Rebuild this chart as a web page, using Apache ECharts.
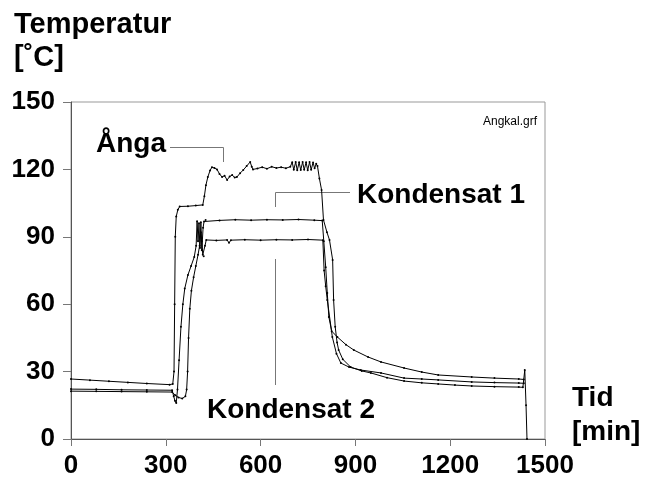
<!DOCTYPE html>
<html>
<head>
<meta charset="utf-8">
<script src="https://cdn.jsdelivr.net/npm/echarts@6/dist/echarts.min.js"></script>
<style>
  html, body { margin: 0; padding: 0; background: #fff; }
  #chart { width: 646px; height: 485px; }
</style>
</head>
<body>
<div id="chart"></div>
<script>
// tid [min], temperatur [°C]
const angaData = [
  [0,26.7],[60,26.2],[120,25.7],[180,25.2],[240,24.7],[312,24.2],[322,24.5],[326,30],[328,60],[330,90],
  [333,99],[338,102],[344,103.5],[370,103.6],[395,103.9],[417,104.2],[422,108],[427,113],[433,116.6],
  [440,119.5],[446,121],[454,120.6],[462,120],[470,118],[478,116.6],[486,117.2],[494,115.3],[502,116.8],
  [510,117.5],[518,116.4],[525,116.6],[535,118.3],[545,119.7],[556,121.5],[567,123.3],[572,121.2],
  [576,120],[590,120.4],[605,121],[620,120.3],[635,121.2],[650,120.6],[665,121],[680,120.5],[694,121.2],
  [700,123.2],[705,119.8],[711,123.3],[716,119.6],[722,123.2],[727,119.7],[733,123.3],[738,119.8],
  [744,123.2],[749,119.6],[755,123.3],[760,119.8],[766,123.1],[771,120.5],[776,122.5],[780,121.5],
  [786,116],[793,110.8],[799,97.5],[810,92],[818,88.6],[828,79.7],[831,61.9],[836,50],[842,43],
  [847,39.6],[860,35.5],[885,32],[920,30.3],[949,29.4],[1000,27.3],[1054,25.8],[1110,25],[1162,24.5],
  [1215,24],[1268,23.6],[1340,23.3],[1417,23.1],[1430,23],[1436,30.7],[1440,15],[1443,0]
]
const kondensat1Data = [
  [0,22.2],[80,22.1],[160,21.9],[240,21.8],[320,21.7],[325,19],[329,17],[333,16],[337,22],[342,35],
  [348,50],[354,60],[360,67],[370,73],[380,77],[390,81],[396,86],[399,96.9],[402,88],[405,96],[408,85],
  [411,96.5],[414,84],[418,94],[421,96.8],[426,97.5],[470,97.3],[520,97.6],[570,97.4],[620,97.6],
  [670,97.5],[720,97.7],[770,97.4],[795,97.2],[800,88],[806,76.5],[811,65],[816,54.3],[825,48],
  [843,45.4],[870,42],[895,39.6],[940,36.5],[981,34.3],[1054,31.6],[1110,29.8],[1162,28.5],
  [1268,27.6],[1340,27.1],[1417,26.7],[1433,26.5]
]
const kondensat2Data = [
  [0,21.3],[80,21.2],[160,21.1],[240,21],[320,20.9],[330,19.5],[340,18.5],[352,18],[362,19],[366,22],
  [369,30],[372,45],[376,58],[381,66],[388,72],[395,77],[402,82],[407,86],[411,92],[414,88],[417,82],
  [420,81.3],[424,86],[428,88.6],[460,88.4],[494,88.6],[500,87.3],[506,88.5],[550,88.7],[600,88.5],
  [650,88.7],[700,88.6],[750,88.8],[797,88.5],[801,75],[806,68],[811,61.9],[827,45.4],[840,38],
  [854,33.8],[880,32],[917,30.7],[981,29.4],[1054,27.1],[1110,26.7],[1162,26.3],[1268,25.4],
  [1340,25.1],[1417,24.9],[1433,24.8]
]
const xTicks = [0, 300, 600, 900, 1200, 1500]
const yTicks = [0, 30, 60, 90, 120, 150]

const chart = echarts.init(document.getElementById('chart'))
const FONT = '"Liberation Sans", Arial, sans-serif'
const bigFont = 'bold 28px ' + FONT

const lineSeries = (name, data) => ({
  name: name,
  type: 'line',
  data: data,
  symbol: 'circle',
  symbolSize: 2,
  showAllSymbol: true,
  animation: false,
  lineStyle: { color: '#000', width: 1 },
  itemStyle: { color: '#000' }
})

const text = (str, x, y, font, align) => ({
  type: 'text',
  x: x,
  y: y,
  style: { text: str, font: font, fill: '#000', textAlign: align || 'left', textVerticalAlign: 'middle' }
})

const leader = (points) => ({
  type: 'polyline',
  shape: { points: points },
  style: { stroke: '#777', lineWidth: 1, fill: null }
})

chart.setOption({
  animation: false,
  grid: {
    left: 71, right: 101, top: 102, bottom: 46,
    show: true, borderColor: '#999', borderWidth: 1
  },
  xAxis: {
    type: 'value',
    min: xTicks[0],
    max: xTicks[xTicks.length - 1],
    interval: 300,
    axisLine: { show: true, lineStyle: { color: '#555', width: 1 } },
    axisTick: { show: true, length: 7, lineStyle: { color: '#777' } },
    axisLabel: {
      color: '#000', fontSize: 26, fontWeight: 'bold', fontFamily: FONT, margin: 14,
      formatter: (v) => String(v)
    },
    splitLine: { show: false }
  },
  yAxis: {
    type: 'value',
    min: yTicks[0],
    max: yTicks[yTicks.length - 1],
    interval: 30,
    axisLine: { show: true, lineStyle: { color: '#555', width: 1 } },
    axisTick: { show: true, length: 8, lineStyle: { color: '#777' } },
    axisLabel: {
      color: '#000', fontSize: 26, fontWeight: 'bold', fontFamily: FONT, margin: 16,
      formatter: (v) => String(v)
    },
    splitLine: { show: false }
  },
  series: [
    lineSeries('Ånga', angaData),
    lineSeries('Kondensat 1', kondensat1Data),
    lineSeries('Kondensat 2', kondensat2Data)
  ],
  graphic: [
    text('Temperatur', 14, 25, 'bold 29px ' + FONT),
    text('[˚C]', 14, 58, 'bold 29px ' + FONT),
    text('Tid', 572, 398, bigFont),
    text('[min]', 572, 432, bigFont),
    text('Angkal.grf', 537, 122, '12px ' + FONT, 'right'),
    text('Ånga', 96, 144, bigFont),
    text('Kondensat 1', 357, 195, bigFont),
    text('Kondensat 2', 207, 410, bigFont),
    leader([[170, 147.5], [223.5, 147.5], [223.5, 162]]),
    leader([[350, 192.5], [275.5, 192.5], [275.5, 207]]),
    leader([[275.5, 259], [275.5, 385]])
  ]
})

window.addEventListener('resize', () => chart.resize())
</script>
</body>
</html>
